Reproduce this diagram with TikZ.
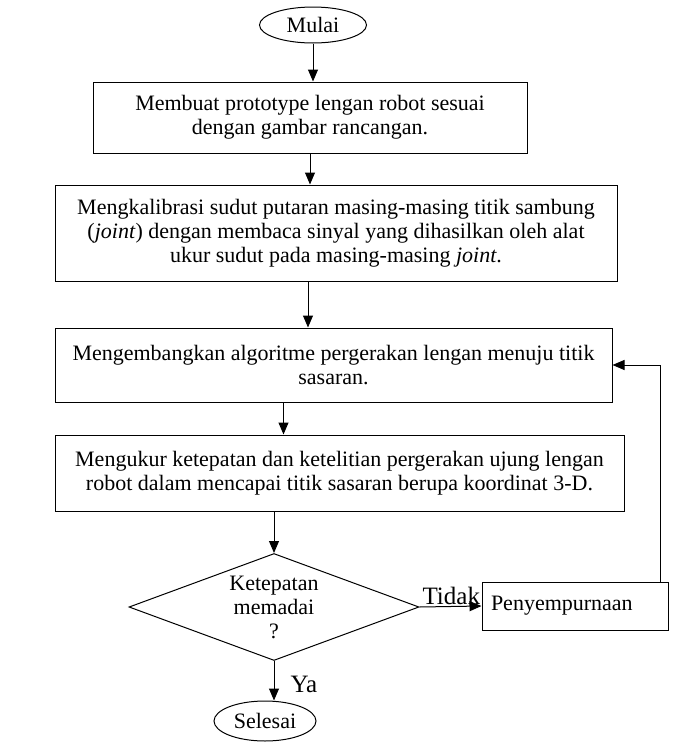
\documentclass[tikz,border=0pt]{standalone}
\usepackage{fontspec}
\setmainfont{Liberation Serif}
\usetikzlibrary{shapes.geometric,arrows.meta}
\begin{document}
\begin{tikzpicture}[x=1pt,y=-1pt,
  every node/.style={font=\fontsize{22}{24}\selectfont},
  boxnode/.style={draw,line width=1pt,rectangle,inner sep=0pt,align=center},
  ovalnode/.style={draw,line width=1pt,ellipse,inner sep=0pt},
  arr/.style={line width=1pt,-{Triangle[length=12pt,width=10pt]}},
  lbl/.style={font=\fontsize{25}{27}\selectfont}]
\useasboundingbox (0,0) rectangle (678,745);
\node[ovalnode,minimum width=107pt,minimum height=36pt] (mulai) at (313,25) {Mulai};
\node[boxnode,minimum width=434pt,minimum height=71pt] (b1) at (310,117.5)
  {Membuat prototype lengan robot sesuai\\dengan gambar rancangan.};
\node[boxnode,minimum width=562pt,minimum height=96pt] (b2) at (336,233)
  {Mengkalibrasi sudut putaran masing-masing titik sambung\\(\textit{joint}) dengan membaca sinyal yang dihasilkan oleh alat\\ukur sudut pada masing-masing \textit{joint}.};
\node[boxnode,minimum width=557pt,minimum height=74pt] (b3) at (333.5,365)
  {Mengembangkan algoritme pergerakan lengan menuju titik\\sasaran.};
\node[boxnode,minimum width=569pt,minimum height=76pt] (b4) at (339.5,473)
  {Mengukur ketepatan dan ketelitian pergerakan ujung lengan\\robot dalam mencapai titik sasaran berupa koordinat 3-D.};
\node[draw,line width=1pt,diamond,aspect=2.7,inner sep=0pt,minimum width=290pt,minimum height=107pt,align=center] (dia) at (274,607)
  {Ketepatan\\memadai\\?};
\node[boxnode,minimum width=186pt,minimum height=48pt,text width=168pt,align=left] (pen) at (575,606)
  {Penyempurnaan};
\node[ovalnode,minimum width=102pt,minimum height=40pt] (selesai) at (265,721) {Selesai};
\draw[arr] (mulai.south) -- (mulai.south |- b1.north);
\draw[arr] (b1.south) -- (b1.south |- b2.north);
\draw[arr] ([xshift=-2pt]b2.south -| b1.south) -- ([xshift=-2pt]b1.south |- b3.north);
\draw[arr] ([xshift=-50pt]b3.south) -- ([xshift=-50pt]b3.south |- b4.north);
\draw[arr] (dia.north |- b4.south) -- (dia.north);
\draw[arr] (dia.east) -- (pen.west) node[pos=1,above left,inner sep=1pt,lbl] {Tidak};
\draw[arr] ([xshift=-8pt]pen.north east) |- (b3.east);
\draw[arr] (dia.south) -- (dia.south |- selesai.north) node[midway,right,inner xsep=16pt,inner ysep=0pt,yshift=-4pt,lbl] {Ya};
\end{tikzpicture}
\end{document}
